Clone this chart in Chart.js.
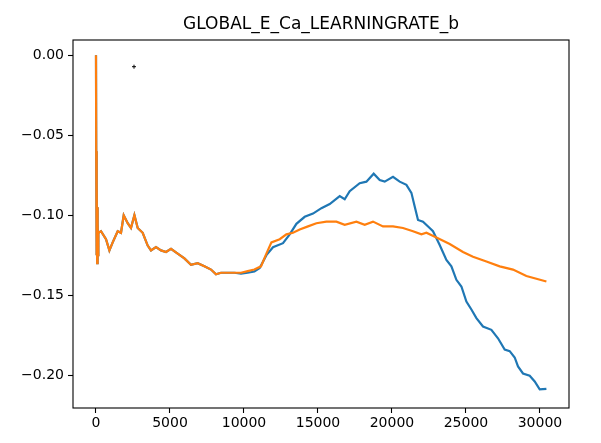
<!DOCTYPE html>
<html>
<head>
<meta charset="utf-8">
<script src="https://cdn.jsdelivr.net/npm/chart.js@4.4.1/dist/chart.umd.min.js"></script>
<style>
  html, body { margin: 0; padding: 0; background: #fff; }
  #wrap { width: 601px; height: 443px; }
</style>
</head>
<body>
<div id="wrap"><canvas id="lr_chart"></canvas></div>
<script>
// values
var orangeX = [0, 15, 25, 35, 50, 65, 80, 95, 110, 125, 140, 160, 338, 676, 905, 1128, 1466, 1689, 1872, 2142, 2365, 2595, 2818, 3155, 3493, 3716, 4054, 4392, 4730, 5068, 5520, 5973, 6419, 6872, 7325, 7771, 8108, 8446, 8899, 9352, 9798, 10250, 10703, 11149, 11514, 11852, 12413, 12865, 13311, 13764, 14325, 14893, 15568, 16244, 16805, 17595, 18156, 18717, 19393, 20068, 20744, 21420, 21988, 22325, 23001, 23900, 24798, 25474, 26380, 27278, 28177, 29082, 30434];
var orangeY = [0, -0.060, -0.095, -0.065, -0.125, -0.080, -0.130, -0.095, -0.120, -0.105, -0.125, -0.111, -0.110, -0.115, -0.122, -0.117, -0.110, -0.111, -0.100, -0.105, -0.108, -0.100, -0.108, -0.111, -0.119, -0.122, -0.120, -0.122, -0.123, -0.121, -0.124, -0.127, -0.131, -0.130, -0.132, -0.134, -0.137, -0.136, -0.136, -0.136, -0.136, -0.135, -0.134, -0.132, -0.124, -0.117, -0.115, -0.112, -0.111, -0.109, -0.107, -0.105, -0.104, -0.104, -0.106, -0.104, -0.106, -0.104, -0.107, -0.107, -0.108, -0.110, -0.112, -0.111, -0.114, -0.118, -0.123, -0.126, -0.129, -0.132, -0.134, -0.138, -0.1415];

var blueX = [0, 15, 25, 35, 50, 65, 80, 95, 110, 125, 140, 160, 338, 676, 905, 1128, 1466, 1689, 1872, 2142, 2365, 2595, 2818, 3155, 3493, 3716, 4054, 4392, 4730, 5068, 5520, 5973, 6419, 6872, 7325, 7771, 8108, 8446, 8899, 9352, 9798, 10250, 10703, 11061, 11514, 11960, 12636, 13089, 13541, 14102, 14663, 15231, 15791, 16467, 16805, 17143, 17818, 18271, 18764, 19170, 19508, 20068, 20521, 20974, 21312, 21535, 21758, 22095, 22548, 22771, 23224, 23677, 24014, 24352, 24690, 25028, 25366, 25704, 26150, 26717, 27163, 27616, 27954, 28292, 28515, 28853, 29305, 29643, 29981, 30434];
var blueY = [0, -0.060, -0.095, -0.065, -0.125, -0.080, -0.130, -0.095, -0.120, -0.105, -0.125, -0.111, -0.110, -0.115, -0.122, -0.117, -0.110, -0.111, -0.100, -0.105, -0.108, -0.100, -0.108, -0.111, -0.119, -0.122, -0.120, -0.122, -0.123, -0.121, -0.124, -0.127, -0.131, -0.130, -0.132, -0.134, -0.137, -0.136, -0.136, -0.136, -0.1365, -0.136, -0.1352, -0.133, -0.125, -0.120, -0.1175, -0.112, -0.1054, -0.101, -0.099, -0.0956, -0.093, -0.088, -0.090, -0.085, -0.080, -0.079, -0.074, -0.078, -0.079, -0.076, -0.079, -0.081, -0.086, -0.0946, -0.103, -0.104, -0.108, -0.110, -0.1186, -0.128, -0.132, -0.1404, -0.1446, -0.154, -0.159, -0.1644, -0.1696, -0.1717, -0.177, -0.184, -0.185, -0.189, -0.1946, -0.199, -0.2004, -0.204, -0.209, -0.2086];

var markX = [2568];
var markY = [-0.0071];

var xTicks = [0, 5000, 10000, 15000, 20000, 25000, 30000];
var yTicks = [0, -0.05, -0.10, -0.15, -0.20];

function pts(xs, ys) {
	var out = [];
	for (var i = 0; i < xs.length; i++) {
		out.push({x: xs[i], y: ys[i]});
	}
	return out;
}

// black frame round the plot area, like the matplotlib spines,
// and the title centred over the plot area instead of the canvas
var frame = {
	id: 'frame',
	afterLayout: function(chart) {
		var t = chart.titleBlock;
		if (t) {
			t.left = chart.chartArea.left;
			t.right = chart.chartArea.right;
		}
	},
	afterDraw: function(chart) {
		var a = chart.chartArea, c = chart.ctx;
		c.save();
		c.strokeStyle = '#000';
		c.lineWidth = 1.1;
		c.strokeRect(a.left, a.top, a.right - a.left, a.bottom - a.top);
		c.restore();
	}
};

var font = "'DejaVu Sans', sans-serif";

var config = {
	type: 'line',
	data: {
		datasets: [{
			data: pts(blueX, blueY),
			borderColor: '#1f77b4',
			borderWidth: 2.2,
			pointRadius: 0,
			tension: 0,
			order: 2
		}, {
			data: pts(orangeX, orangeY),
			borderColor: '#ff7f0e',
			borderWidth: 2.2,
			pointRadius: 0,
			tension: 0,
			order: 1
		}, {
			type: 'scatter',
			data: pts(markX, markY),
			pointStyle: 'cross',
			pointRadius: 2,
			borderColor: '#000',
			borderWidth: 1,
			backgroundColor: '#000',
			order: 0
		}]
	},
	options: {
		responsive: true,
		maintainAspectRatio: false,
		animation: false,
		layout: { padding: { left: 0, right: 32, top: 0, bottom: 0 } },
		plugins: {
			legend: { display: false },
			tooltip: { enabled: false },
			title: {
				display: true,
				text: 'GLOBAL_E_Ca_LEARNINGRATE_b',
				color: '#000',
				font: { family: font, size: 17, weight: 'normal' },
				padding: { top: 14, bottom: 5.6 }
			}
		},
		scales: {
			x: {
				type: 'linear',
				min: -1554,
				max: 31961,
				afterBuildTicks: function(s) { s.ticks = xTicks.map(function(v){ return {value: v}; }); },
				afterFit: function(s) { s.height = 35; },
				grid: { display: true, drawOnChartArea: false, drawTicks: true, tickLength: 5, color: '#000', tickWidth: 1.1 },
				border: { display: false },
				ticks: {
					color: '#000',
					padding: 2,
					maxRotation: 0,
					autoSkip: false,
					font: { family: font, size: 14 },
					callback: function(v) { return String(v); }
				}
			},
			y: {
				type: 'linear',
				min: -0.2206,
				max: 0.0096,
				afterBuildTicks: function(s) { s.ticks = yTicks.map(function(v){ return {value: v}; }); },
				afterFit: function(s) { s.width = 73; },
				grid: { display: true, drawOnChartArea: false, drawTicks: true, tickLength: 5, color: '#000', tickWidth: 1.1 },
				border: { display: false },
				ticks: {
					color: '#000',
					padding: 4,
					autoSkip: false,
					font: { family: font, size: 14 },
					callback: function(v) { return (v < 0 ? '\u2212' : '') + Math.abs(v).toFixed(2); }
				}
			}
		}
	},
	plugins: [frame]
};

var lrChart = new Chart(document.getElementById('lr_chart'), config);
</script>
</body>
</html>
